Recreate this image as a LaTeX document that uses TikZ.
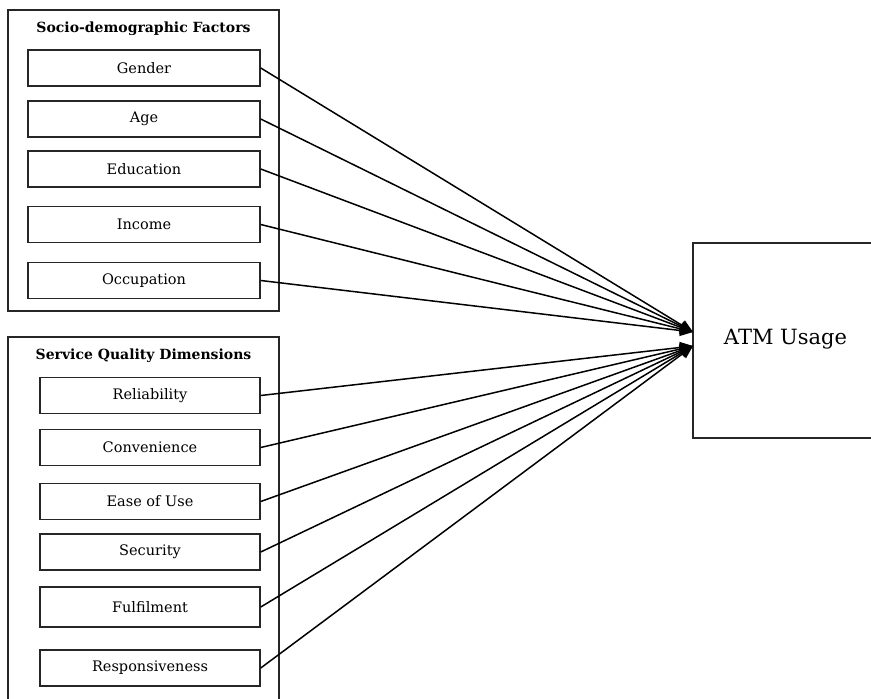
\documentclass[tikz,border=0pt]{standalone}
\usepackage{fontspec}
\setmainfont{DejaVu Serif}
\usetikzlibrary{arrows.meta}
\begin{document}
\begin{tikzpicture}[x=1pt,y=-1pt,
  outerbox/.style={draw=black!85,line width=1.5pt},
  itembox/.style={draw=black!85,line width=1.5pt,minimum height=36pt,inner sep=0pt,font=\fontsize{14.5}{16}\selectfont},
  grouptitle/.style={font=\fontsize{14}{16}\selectfont\bfseries,inner sep=0pt},
  link/.style={draw=black,line width=1.5pt,-{Triangle[length=13pt,width=11pt]}}]
\useasboundingbox (0,0) rectangle (871,699);
\clip (0,0) rectangle (871,699);
% group boxes
\draw[outerbox] (8,10) rectangle (279,311);
\draw[outerbox] (8,337) rectangle (279,720);
\node[grouptitle] (t1) at (143.5,29) {Socio-demographic Factors};
\node[grouptitle] (t2) at (143.5,356) {Service Quality Dimensions};
% socio items
\node[itembox,minimum width=232pt] (g) at (144,68) {Gender};
\node[itembox,minimum width=232pt] (a) at (144,119) {Age};
\node[itembox,minimum width=232pt] (e) at (144,169) {Education};
\node[itembox,minimum width=232pt] (i) at (144,224.5) {Income};
\node[itembox,minimum width=232pt] (o) at (144,280.5) {Occupation};
% service items
\node[itembox,minimum width=220pt] (r) at (150,395.5) {Reliability};
\node[itembox,minimum width=220pt] (c) at (150,447.5) {Convenience};
\node[itembox,minimum width=220pt] (u) at (150,501.5) {Ease of Use};
\node[itembox,minimum width=220pt] (s) at (150,552) {Security};
\node[itembox,minimum width=220pt,minimum height=40pt] (f) at (150,607) {Fulfilment};
\node[itembox,minimum width=220pt] (p) at (150,668) {Responsiveness};
% ATM
\draw[outerbox] (693,243) rectangle (900,438);
\node[font=\fontsize{21}{24}\selectfont,inner sep=0pt] (atm) at (785.5,339) {ATM Usage};
\coordinate (t1end) at (693,332);
\coordinate (t2end) at (693,346);
\foreach \n in {g,a,e,i,o} \draw[link] (\n.east) -- (t1end);
\foreach \n in {r,c,u,s,f,p} \draw[link] (\n.east) -- (t2end);
\end{tikzpicture}
\end{document}
